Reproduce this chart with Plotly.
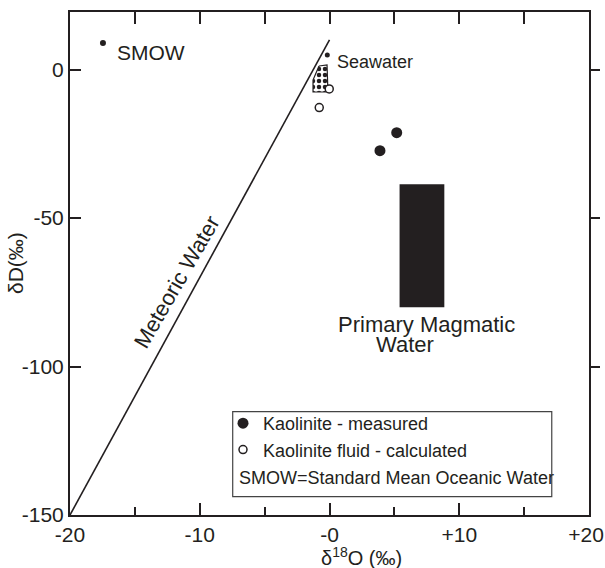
import plotly.graph_objects as go

# ---- data ----
mwl_x = [-20, 0]            # Meteoric water line (dD = 8*d18O + 10)
mwl_y = [-150, 10]

smow_x = [-17.46]
smow_y = [8.96]

seawater_x = [-0.17]
seawater_y = [4.9]

sea_field_x = [-0.81, -0.19, -0.12, -1.27, -1.27, -0.81]
sea_field_y = [1.21, 1.55, -7.54, -7.54, -3.5, 1.21]

measured_x = [5.18, 3.89]
measured_y = [-21.25, -27.3]

calc_x = [-0.02, -0.79]
calc_y = [-6.5, -12.8]

magmatic_x = [5.4, 8.85]
magmatic_y = [-80.0, -38.6]

x_tickvals = [-20, -10, 0, 10, 20]
x_ticktext = ["-20", "-10", "-0", "+10", "+20\u00a0"]
y_tickvals = [0, -50, -100, -150]
y_ticktext = ["0", "-50", "-100", "-150"]

INK = "#231f20"
FONT = "Liberation Sans, Arial, Helvetica, sans-serif"

fig = go.Figure()

fig.add_trace(go.Scatter(x=mwl_x, y=mwl_y, mode="lines",
                         line=dict(color=INK, width=1.6), showlegend=False,
                         hoverinfo="skip"))

fig.add_trace(go.Scatter(x=sea_field_x, y=sea_field_y, mode="lines", fill="toself",
                         line=dict(color=INK, width=1.2),
                         fillcolor="white",
                         fillpattern=dict(shape=".", fgcolor=INK, bgcolor="white",
                                          size=6, solidity=0.45),
                         showlegend=False))

fig.add_trace(go.Scatter(x=seawater_x, y=seawater_y, mode="markers",
                         marker=dict(color=INK, size=5), showlegend=False))
fig.add_trace(go.Scatter(x=smow_x, y=smow_y, mode="markers",
                         marker=dict(color=INK, size=6), showlegend=False))

fig.add_trace(go.Scatter(x=measured_x, y=measured_y, mode="markers",
                         name="Kaolinite - measured",
                         marker=dict(color=INK, size=11, line=dict(width=0))))
fig.add_trace(go.Scatter(x=calc_x, y=calc_y, mode="markers",
                         name="Kaolinite fluid - calculated",
                         marker=dict(color="white", size=8,
                                     line=dict(color=INK, width=1.5))))

# invisible trace to activate the mirror axes
fig.add_trace(go.Scatter(x=[None], y=[None], xaxis="x2", yaxis="y2",
                         showlegend=False, hoverinfo="skip"))

# Primary magmatic water box
fig.add_shape(type="rect", xref="x", yref="y",
              x0=magmatic_x[0], x1=magmatic_x[1], y0=magmatic_y[0], y1=magmatic_y[1],
              fillcolor=INK, line=dict(width=0), layer="above")

# legend frame
fig.add_shape(type="rect", xref="x", yref="y",
              x0=-7.46, x1=17.13, y0=-143.8, y1=-115.2,
              line=dict(color="#444", width=1.2), fillcolor="rgba(0,0,0,0)")

ann = []
def txt(x, y, s, size, xanchor="center", angle=0, xref="x", yref="y"):
    ann.append(dict(x=x, y=y, xref=xref, yref=yref, text=s, showarrow=False,
                    xanchor=xanchor, yanchor="middle", textangle=angle,
                    font=dict(family=FONT, size=size, color=INK)))

txt(-16.55, 5.6, "SMOW", 21, xanchor="left")
txt(0.45, 2.4, "Seawater", 18, xanchor="left")
txt(7.51, -86.0, "Primary Magmatic", 22)
txt(5.82, -92.6, "Water", 22)
txt(-11.79, -71.7, "Meteoric Water", 22, angle=-60)
txt(-7.1, -137.6, "SMOW=Standard Mean Oceanic Water", 18, xanchor="left")
# axis titles
txt(0.5626, -0.083, "δ<sup>18</sup>O (‰)", 20, xref="paper", yref="paper")
txt(-0.105, 0.5, "δD(‰)", 21, angle=-90, xref="paper", yref="paper")

common = dict(automargin=False, showgrid=False, zeroline=False, showline=True,
              linecolor=INK, linewidth=2, tickcolor=INK, tickwidth=1.8)

fig.update_layout(
    template="none",
    width=605, height=568,
    margin=dict(l=70, r=16, t=12, b=53, pad=0),
    paper_bgcolor="white", plot_bgcolor="white",
    font=dict(family=FONT, size=21, color=INK),
    annotations=ann,
    showlegend=True,
    legend=dict(x=0.2948, y=0.2187, xanchor="left", yanchor="top",
                bgcolor="rgba(0,0,0,0)", borderwidth=0,
                font=dict(family=FONT, size=18, color=INK),
                itemwidth=30, tracegroupgap=0),
    xaxis=dict(range=[-20, 20], tickmode="array", tickvals=x_tickvals,
               ticktext=x_ticktext, ticks="inside", ticklen=12,
               ticklabeloverflow="allow",
               minor=dict(tickmode="array", tickvals=[-15, -5, 5, 15],
                          ticks="inside", ticklen=8, tickwidth=1.8, tickcolor=INK,
                          showgrid=False),
               tickfont=dict(family=FONT, size=21, color=INK), **common),
    xaxis2=dict(range=[-20, 20], overlaying="x", side="top", tickmode="array",
                tickvals=[-15, -10, -5, 0, 5, 10, 15], ticks="inside", ticklen=12,
                showticklabels=False, **common),
    yaxis=dict(range=[-150, 19.4], tickmode="array", tickvals=y_tickvals,
               ticktext=y_ticktext, ticks="inside", ticklen=11,
               tickfont=dict(family=FONT, size=21, color=INK), **common),
    yaxis2=dict(range=[-150, 19.4], overlaying="y", side="right", tickmode="array",
                tickvals=[0, -50, -100], ticks="outside", ticklen=9,
                showticklabels=False, **common),
)

fig.write_html("out.html", config={"displayModeBar": False},
               post_script="document.body.style.margin='0';document.body.style.overflow='hidden';")
